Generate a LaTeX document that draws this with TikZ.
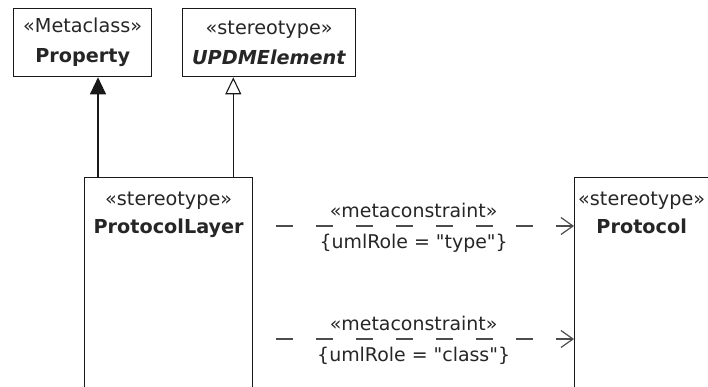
\documentclass[tikz,border=0pt]{standalone}
\usepackage{fontspec}
\setmainfont{DejaVu Sans}[Ligatures=TeXOff]
\usetikzlibrary{arrows.meta, positioning}

\begin{document}
\begin{tikzpicture}[
  x=1bp, y=-1bp,
  font=\fontsize{19.3}{30}\selectfont,
  text=black!85,
  classbox/.style={rectangle, draw=black!90, line width=1.3bp, fill=white,
                   anchor=north west, inner sep=0pt, align=center},
  classtext/.style={anchor=north, align=center, inner sep=0pt,
                    font=\fontsize{19.3}{28}\selectfont},
  genarr/.style={-{Triangle[open, length=17bp, width=16bp, fill=white]},
                 line width=1.1bp, draw=black!90},
  refarr/.style={-{Triangle[length=17bp, width=16bp]},
                 line width=1.1bp, draw=black!90},
  metaarr/.style={-{Straight Barb[length=12bp, width=17bp]}, line width=1.2bp,
                  draw=black!70, dash pattern=on 17bp off 23bp, dash phase=17bp},
  lbl/.style={inner sep=0pt, font=\fontsize{19}{22}\selectfont}
]
\useasboundingbox (0,0) rectangle (708,386);
\clip (0,0) rectangle (708,386);

% Boxes
\node[classbox, minimum width=138bp, minimum height=68bp] (property) at (13,8)
  {«Metaclass»\\\textbf{Property}};
\node[classbox, minimum width=173bp, minimum height=68bp] (updm) at (182,8)
  {«stereotype»\\\textbf{\textit{UPDMElement}}};
\node[classbox, minimum width=168bp, minimum height=260bp] (protocolLayer) at (84,177) {};
\node[classbox, minimum width=140bp, minimum height=260bp] (protocol) at (574,177) {};

% Box titles
\node[classtext, below=15bp of protocolLayer.north] (plTitle)
  {«stereotype»\\\textbf{ProtocolLayer}};
\node[classtext, below=15bp of protocol.north, xshift=-3bp] (protTitle)
  {«stereotype»\\\textbf{Protocol}};

% Generalizations
\draw[refarr] ([xshift=14bp]protocolLayer.north west)
  -- ([xshift=14bp]protocolLayer.north west |- property.south);
\draw[genarr] ([xshift=-20bp]protocolLayer.north east)
  -- ([xshift=-20bp]protocolLayer.north east |- updm.south);

% Metaconstraints
\draw[metaarr] ([yshift=-49bp]protocolLayer.north east)
  -- node[lbl, above=8bp] (mcType) {«metaconstraint»}
     node[lbl, below=8bp] (roleType) {\{umlRole = "type"\}}
  ([yshift=-49bp]protocol.north west);
\draw[metaarr] ([yshift=-162bp]protocolLayer.north east)
  -- node[lbl, above=8bp] (mcClass) {«metaconstraint»}
     node[lbl, below=8bp] (roleClass) {\{umlRole = "class"\}}
  ([yshift=-162bp]protocol.north west);

\end{tikzpicture}
\end{document}
